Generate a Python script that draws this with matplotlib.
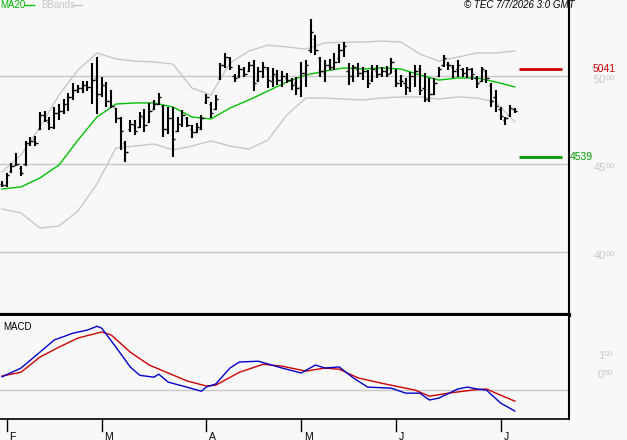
import matplotlib
matplotlib.use("Agg")
import matplotlib.pyplot as plt
import numpy as np

plt.rcParams['font.family'] = ['Liberation Sans', 'DejaVu Sans']

# daily bars, early Feb -> 7 Jul
highs = [4405, 4451, 4506, 4564, 4489, 4631, 4653, 4659, 4796, 4801,
         4767, 4824, 4841, 4869, 4903, 4960, 4949, 4972, 4972, 5074,
         5108, 4994, 4966, 4920, 4818, 4767, 4631, 4750, 4750, 4796,
         4812, 4847, 4864, 4903, 4835, 4824, 4824, 4767, 4807, 4767,
         4722, 4733, 4778, 4898, 4852, 4892, 5074, 5131, 5108, 5011,
         5063, 5051, 5080, 5091, 5051, 5080, 5051, 5046, 5034, 5028,
         5017, 4989, 4994, 5080, 5091, 5324, 5233, 5108, 5091, 5097,
         5131, 5182, 5193, 5074, 5063, 5074, 5051, 5034, 5063, 5063,
         5051, 5057, 5102, 5040, 5006, 4989, 5023, 5063, 5063, 5017,
         4989, 4989, 5051, 5119, 5080, 5063, 5091, 5046, 5051, 5046,
         5000, 5051, 5034, 4960, 4920, 4824, 4767, 4835, 4818]
lows = [4370, 4370, 4451, 4489, 4432, 4489, 4602, 4602, 4693, 4739,
        4693, 4699, 4750, 4784, 4801, 4864, 4903, 4903, 4915, 4841,
        4784, 4881, 4824, 4818, 4733, 4580, 4512, 4682, 4665, 4705,
        4682, 4733, 4807, 4835, 4653, 4670, 4540, 4682, 4710, 4710,
        4648, 4676, 4693, 4841, 4761, 4807, 4977, 5046, 5034, 4966,
        4989, 4994, 5023, 4915, 4966, 4989, 4932, 4938, 4949, 4938,
        4960, 4920, 4892, 4881, 4938, 5131, 5119, 4994, 4966, 5034,
        5034, 5074, 5108, 4949, 4966, 4994, 4977, 4932, 4966, 4989,
        4994, 4994, 5017, 4938, 4938, 4892, 4909, 4938, 4892, 4852,
        4852, 4892, 4994, 5051, 5034, 4989, 4994, 4994, 4989, 4977,
        4932, 4966, 4960, 4824, 4796, 4750, 4722, 4767, 4790]
opens = [4385, 4380, 4460, 4495, 4480, 4500, 4620, 4640, 4700, 4780,
         4740, 4710, 4790, 4800, 4840, 4880, 4920, 4930, 4950, 4940,
         4990, 4900, 4950, 4860, 4820, 4760, 4620, 4700, 4720, 4710,
         4760, 4740, 4810, 4840, 4830, 4700, 4760, 4690, 4730, 4760,
         4700, 4680, 4700, 4850, 4840, 4810, 4990, 5060, 5100, 5000,
         5000, 5040, 5030, 5060, 4980, 5030, 5040, 4970, 5000, 4980,
         4990, 4980, 4960, 4940, 5020, 5150, 5210, 5100, 5020, 5060,
         5050, 5100, 5150, 5030, 5000, 5040, 5020, 5030, 4980, 5030,
         5010, 5030, 5020, 5030, 4980, 4960, 4930, 5000, 5040, 4930,
         4870, 4900, 5000, 5060, 5070, 5050, 5040, 5040, 5020, 5040,
         4990, 4970, 5030, 4950, 4880, 4810, 4750, 4780, 4810]
closes = [4380, 4440, 4490, 4500, 4450, 4620, 4630, 4620, 4780, 4750,
          4710, 4790, 4800, 4840, 4880, 4920, 4930, 4950, 4940, 4980,
          4900, 4950, 4860, 4830, 4760, 4690, 4570, 4730, 4690, 4770,
          4720, 4800, 4840, 4880, 4700, 4760, 4640, 4730, 4780, 4720,
          4680, 4710, 4760, 4880, 4790, 4870, 5060, 5110, 5050, 4990,
          5040, 5010, 5060, 4960, 5030, 5050, 4980, 5010, 4980, 5000,
          4980, 4950, 4930, 5020, 5060, 5250, 5150, 5030, 5060, 5050,
          5080, 5150, 5170, 5000, 5050, 5020, 5030, 4960, 5040, 5010,
          5030, 5010, 5080, 4960, 4970, 4940, 5000, 5030, 4920, 4870,
          4900, 4960, 5040, 5100, 5060, 5030, 5060, 5020, 5040, 5010,
          4960, 5040, 4990, 4860, 4830, 4770, 4760, 4820, 4800]

# MA20 and Bollinger bands, read every 4th bar
band_idx = list(range(0, 109, 4))
ma20 = [4358, 4370, 4421, 4494, 4636, 4767, 4841, 4847, 4847, 4824,
        4767, 4756, 4818, 4864, 4915, 4966, 5006, 5028, 5046, 5040,
        5046, 5040, 5006, 4977, 4989, 4989, 4966, 4938]
bb_upper = [4455, 4551, 4710, 4892, 5034, 5131, 5097, 5085, 5080, 5068,
            4932, 4892, 5074, 5142, 5176, 5165, 5153, 5188, 5193, 5193,
            5199, 5193, 5125, 5085, 5108, 5131, 5131, 5142]
bb_lower = [4244, 4222, 4136, 4148, 4233, 4387, 4591, 4602, 4614, 4580,
            4602, 4631, 4602, 4585, 4636, 4779, 4875, 4875, 4869, 4864,
            4875, 4881, 4881, 4869, 4881, 4875, 4852, 4739]

# MACD panel
macd_idx = [0, 4, 8, 11, 15, 18, 20, 21, 24, 27, 29, 32, 33, 35, 38, 42, 43,
            45, 48, 50, 54, 59, 63, 66, 68, 71, 74, 77, 82, 85, 88, 90, 92,
            96, 98, 100, 102, 105, 108]
macd = [0.35, 0.58, 1.00, 1.32, 1.50, 1.58, 1.68, 1.63, 1.13, 0.61, 0.39,
        0.34, 0.42, 0.21, 0.11, -0.03, 0.08, 0.16, 0.58, 0.74, 0.76, 0.58,
        0.45, 0.66, 0.58, 0.61, 0.32, 0.08, 0.05, -0.08, -0.08, -0.26,
        -0.21, 0.03, 0.08, 0.03, 0.00, -0.34, -0.55]
signal_idx = [0, 4, 8, 12, 16, 21, 23, 27, 31, 35, 39, 43, 45, 50, 55, 59,
              64, 68, 71, 75, 80, 87, 90, 94, 99, 102, 104, 108]
signal = [0.37, 0.47, 0.87, 1.13, 1.37, 1.53, 1.45, 1.00, 0.66, 0.45, 0.24,
          0.11, 0.13, 0.47, 0.68, 0.63, 0.50, 0.58, 0.55, 0.32, 0.18, 0.00,
          -0.16, -0.08, 0.00, 0.03, -0.08, -0.29]

month_idx = [1, 21, 43, 63, 83, 105]
month_lbl = ['F', 'M', 'A', 'M', 'J', 'J']

price_grid = [4000, 4500, 5000]
macd_lbls = [(1.0, '1', '00'), (0.5, '0', '50')]
resistance = 5041
support = 4539

bg = '#f8f8f8'
W, H = 627, 440
fig = plt.figure(figsize=(W / 100, H / 100), dpi=100, facecolor=bg)


def box(x0, y0, x1, y1):
    return [x0 / W, 1 - y1 / H, (x1 - x0) / W, (y1 - y0) / H]


ax = fig.add_axes(box(0, 0, 569, 315))
axm = fig.add_axes(box(0, 316, 569, 419))
for a in (ax, axm):
    a.set_facecolor(bg)
    a.set_xlim(-0.42, 119.4)
    a.set_xticks([])
    a.set_yticks([])
    a.spines['top'].set_visible(False)
    a.spines['left'].set_visible(False)
    a.spines['right'].set_linewidth(1.5)
ax.spines['bottom'].set_linewidth(3)
axm.spines['bottom'].set_linewidth(1.2)
ax.set_ylim(3642, 5432)
axm.set_ylim(-0.76, 1.95)

# price panel
for g in price_grid:
    ax.axhline(g, color='#c8c8c8', lw=1, zorder=0)
ax.plot(band_idx, bb_upper, color='#c8c8c8', lw=1)
ax.plot(band_idx, bb_lower, color='#c8c8c8', lw=1)
ax.plot(band_idx, ma20, color='#00c000', lw=1)

idx = np.arange(len(highs))
ax.vlines(idx, lows, highs, color='black', lw=1.5)
ax.hlines(opens, idx - 0.5, idx, color='black', lw=1)
ax.hlines(closes, idx, idx + 0.5, color='black', lw=1)

ax.hlines(resistance, 108.9, 117.9, color='#cc0000', lw=2)
ax.hlines(support, 108.9, 117.9, color='#009900', lw=2)
ax.annotate(str(resistance), xy=(593 / W, resistance), xycoords=('figure fraction', 'data'),
            color='#cc0000', fontsize=7.5, ha='left', va='center', annotation_clip=False)
ax.annotate(str(support), xy=(570 / W, support), xycoords=('figure fraction', 'data'),
            color='#009900', fontsize=7.5, ha='left', va='center', annotation_clip=False)

for g in price_grid:
    s = str(g)
    ax.annotate(s[:2], xy=(606 / W, g), xycoords=('figure fraction', 'data'),
                xytext=(0, 1), textcoords='offset points',
                color='#c8c8c8', fontsize=8, ha='right', va='top', annotation_clip=False)
    ax.annotate(s[2:], xy=(606 / W, g), xycoords=('figure fraction', 'data'),
                xytext=(0, 1), textcoords='offset points',
                color='#c8c8c8', fontsize=6, ha='left', va='top', annotation_clip=False)

# MACD panel
axm.axhline(0, color='#c8c8c8', lw=1, zorder=0)
axm.plot(signal_idx, signal, color='#cc0000', lw=1)
axm.plot(macd_idx, macd, color='#0000cc', lw=1)
axm.text(3 / 569, (419 - 327) / 103, 'MACD', transform=axm.transAxes,
         fontsize=7, ha='left', va='center')
for v, a, b in macd_lbls:
    axm.annotate(a, xy=(604 / W, v), xycoords=('figure fraction', 'data'),
                 xytext=(0, 1), textcoords='offset points',
                 color='#c8c8c8', fontsize=8, ha='right', va='top', annotation_clip=False)
    axm.annotate(b, xy=(604 / W, v), xycoords=('figure fraction', 'data'),
                 xytext=(0, 1), textcoords='offset points',
                 color='#c8c8c8', fontsize=6, ha='left', va='top', annotation_clip=False)

# month ticks below the MACD panel
for m, lbl in zip(month_idx, month_lbl):
    axm.plot([m, m], [0, -0.12], transform=axm.get_xaxis_transform(),
             color='black', lw=1, clip_on=False)
    axm.annotate(lbl, xy=(m, -0.17), xycoords=axm.get_xaxis_transform(),
                 xytext=(2, 0), textcoords='offset points',
                 fontsize=7.5, ha='left', va='center', annotation_clip=False)

# header
fig.text(0, 1 - 5 / H, 'MA20', color='#00b000', fontsize=7, ha='left', va='center')
fig.add_artist(plt.Line2D([25 / W, 34 / W], [1 - 5 / H] * 2, color='#00c000', lw=1))
fig.text(41 / W, 1 - 5 / H, 'BBands', color='#c8c8c8', fontsize=7, ha='left', va='center')
fig.add_artist(plt.Line2D([72 / W, 82 / W], [1 - 5 / H] * 2, color='#c8c8c8', lw=1))
fig.text(575 / W, 1 - 5 / H, '\u00a9 TEC 7/7/2026 3:0 GMT', fontsize=7,
         style='italic', ha='right', va='center')

fig.savefig('out.png', dpi=100, facecolor=bg)
